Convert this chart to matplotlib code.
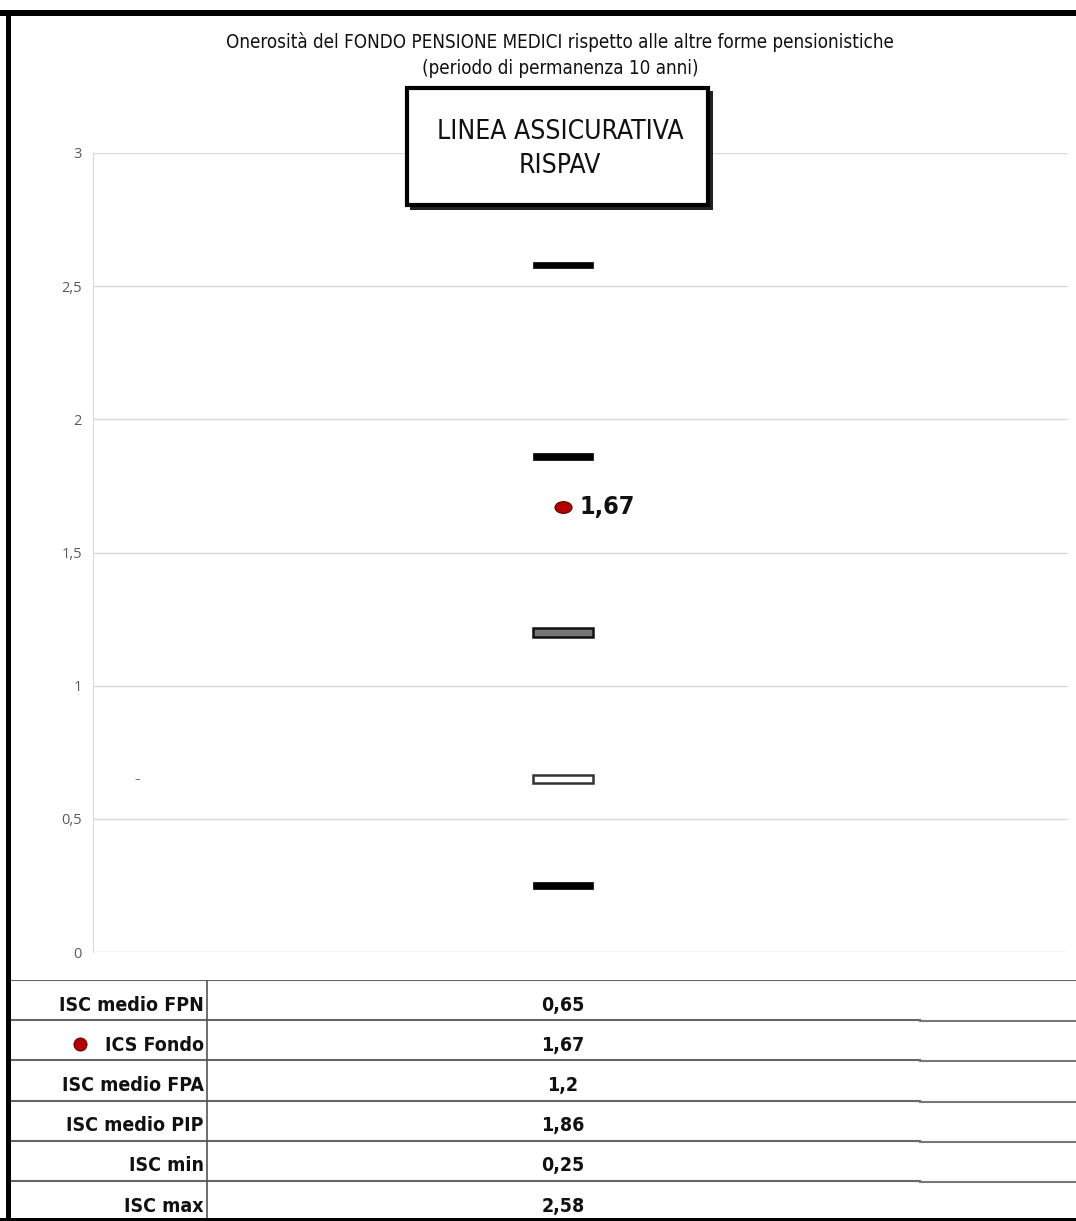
import numpy as np
import matplotlib
matplotlib.use("Agg")
import matplotlib.pyplot as plt
from matplotlib import font_manager
from matplotlib.patches import Rectangle
from matplotlib.path import Path
from matplotlib.transforms import Affine2D

# dati
row_labels = ["ISC medio FPN", "ICS Fondo", "ISC medio FPA", "ISC medio PIP", "ISC min", "ISC max"]
row_values = [0.65, 1.67, 1.2, 1.86, 0.25, 2.58]
y_ticks = [0, 0.5, 1, 1.5, 2, 2.5, 3]
title = "Onerosità del FONDO PENSIONE MEDICI rispetto alle altre forme pensionistiche\n(periodo di permanenza 10 anni)"
box_text = "LINEA ASSICURATIVA\nRISPAV"

# font stretto se c'e', altrimenti Liberation Sans
cond_path = font_manager.findfont(font_manager.FontProperties(family="DejaVu Sans", stretch="condensed"))
if "Condensed" in cond_path:
    narrow = dict(family=["DejaVu Sans"], fontstretch="condensed")
    cond = True
else:
    narrow = dict(family=["Liberation Sans", "DejaVu Sans"])
    cond = False

W, H = 1076, 1221
fig = plt.figure(figsize=(W / 100, H / 100), dpi=100)
fig.patch.set_facecolor("white")

def fx(px):
    return px / W

def fy(py):
    return 1 - py / H

# asse principale
ax = fig.add_axes([fx(93), fy(952), fx(1068) - fx(93), (952 - 153) / H])
ax.set_ylim(0, 3)
ax.set_xlim(-1, 1.075)
ax.set_yticks(y_ticks)
ax.set_yticklabels([("%g" % t).replace(".", ",") for t in y_ticks], fontsize=10.5,
                   color="#595959", family="Open Sans")
ax.set_xticks([])
ax.tick_params(axis="y", length=0, pad=8)
ax.grid(axis="y", color="#d9d9d9", lw=1)
ax.set_axisbelow(True)
for s in ["top", "right", "bottom"]:
    ax.spines[s].set_visible(False)
ax.spines["left"].set_color("#d9d9d9")

# trattini orizzontali
bw = 0.128
styles = {
    "ISC medio FPN": dict(th=0.028, fc="white", ec="#333333", lw=1.8),
    "ISC medio FPA": dict(th=0.032, fc="#777777", ec="#111111", lw=1.8),
    "ISC medio PIP": dict(th=0.024, fc="black", ec="black", lw=0.5),
    "ISC min": dict(th=0.024, fc="black", ec="black", lw=0.5),
    "ISC max": dict(th=0.024, fc="black", ec="black", lw=0.5),
}
for lab, v in zip(row_labels, row_values):
    if lab in styles:
        st = styles[lab]
        ax.bar(0, st["th"], bottom=v - st["th"] / 2, width=bw, color=st["fc"],
               edgecolor=st["ec"], linewidth=st["lw"], zorder=3)

# punto rosso del fondo
ell = Path.unit_circle().transformed(Affine2D().scale(1.45, 1.0))
fondo = row_values[row_labels.index("ICS Fondo")]
ax.scatter([0], [fondo], marker=ell, s=150, color="#b30000", edgecolor="#5a0000",
           linewidths=0.8, zorder=4)
ax.text(0.035, fondo, ("%g" % fondo).replace(".", ","), fontsize=18 if cond else 17,
        fontweight="bold", va="center", ha="left", color="#111111", **narrow)
ax.text(-0.906, 0.65, "–", fontsize=8, color="#555555", ha="center", va="center")

# titolo
fig.text(fx(560), fy(55), title, ha="center", va="center", fontsize=13.5 if cond else 13,
         linespacing=1.4, color="#111111", **narrow)

# riquadro
fig.patches.append(Rectangle((fx(410), fy(210)), fx(713) - fx(410), (210 - 91) / H,
                             transform=fig.transFigure, fc="#222222", ec="none", zorder=5))
fig.patches.append(Rectangle((fx(407), fy(205)), fx(708) - fx(407), (205 - 88) / H,
                             transform=fig.transFigure, fc="white", ec="black", lw=3, zorder=6))
fig.text(fx(560), fy(149), box_text, ha="center", va="center", fontsize=19 if cond else 17.5,
         linespacing=1.4, zorder=7, color="#111111", **narrow)

# tabella
tax = fig.add_axes([fx(10), fy(1219), fx(1076) - fx(10), (1219 - 980) / H])
tax.set_xlim(10, 1076)
tax.set_ylim(1219, 980)
tax.axis("off")
top, rh = 980, 40.2
tax.plot([10, 1076], [top, top], color="#666666", lw=1.5)
for i, (lab, v) in enumerate(zip(row_labels, row_values)):
    yc = top + rh * i + rh / 2 + 5
    yl = top + rh * (i + 1)
    if i < len(row_labels) - 1:
        tax.plot([10, 920], [yl, yl], color="#666666", lw=1.5)
        tax.plot([920, 1076], [yl + 1, yl + 1], color="#777777", lw=1.5)
    tax.text(204, yc, lab, ha="right", va="center", fontsize=14 if cond else 13.5,
             fontweight="bold", color="#111111", **narrow)
    tax.text(563, yc, ("%g" % v).replace(".", ","), ha="center", va="center",
             fontsize=14 if cond else 13.5, fontweight="bold", color="#111111", **narrow)
    if lab == "ICS Fondo":
        tax.scatter([80], [yc - 1], s=90, color="#b30000", edgecolor="#5a0000", lw=0.6)
tax.plot([207, 207], [top, 1219], color="#555555", lw=1.2)

# bordi neri
fig.patches.append(Rectangle((0, fy(16)), 1, 6 / H, transform=fig.transFigure,
                             fc="black", ec="none", zorder=10))
fig.patches.append(Rectangle((fx(6), 0), 5 / W, fy(10), transform=fig.transFigure,
                             fc="black", ec="none", zorder=10))
fig.patches.append(Rectangle((0, 0), 1, 3 / H, transform=fig.transFigure,
                             fc="black", ec="none", zorder=10))

fig.savefig("out.png", dpi=100)
